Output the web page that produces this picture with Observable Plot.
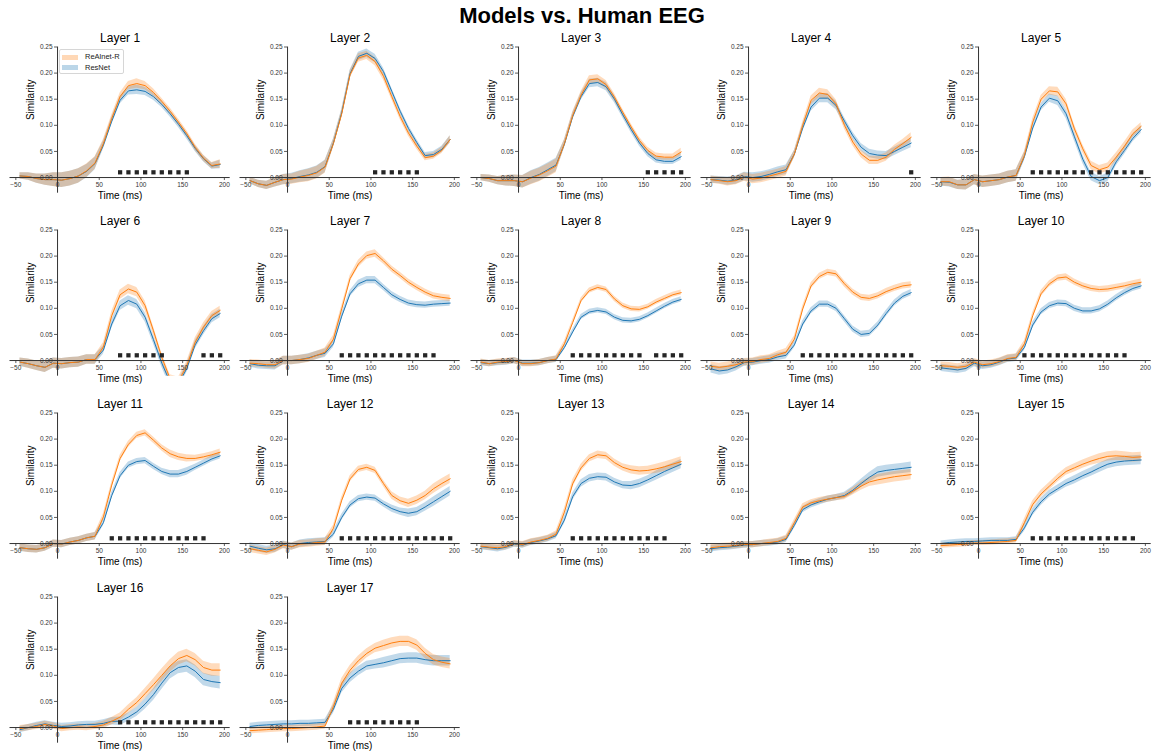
<!DOCTYPE html>
<html>
<head>
<meta charset="utf-8">
<script src="https://cdn.jsdelivr.net/npm/d3@7"></script>
<script src="https://cdn.jsdelivr.net/npm/@observablehq/plot@0.6"></script>
<style>
  body { margin: 0; background: #fff; font-family: "Liberation Sans", Arial, sans-serif; }
  #chart { position: relative; width: 1156px; height: 754px; overflow: hidden; background: #fff; }
  #title { position: absolute; left: 332px; width: 500px; top: 3px; text-align: center;
           font-size: 22px; font-weight: bold; line-height: 26px; color: #000; }
  .panel { position: absolute; }
  #legend { position: absolute; left: 59px; top: 49px; width: 63px; height: 23px;
            border: 1px solid #d6d6d6; border-radius: 2px; background: rgba(255,255,255,0.85);
            font-size: 7.5px; color: #222; }
  #legend .row { position: absolute; left: 2px; height: 8px; line-height: 8px; white-space: nowrap; }
  #legend .sw { display: inline-block; width: 16px; height: 5px; vertical-align: middle; margin-right: 7px; }
</style>
</head>
<body>
<div id="chart">
  <div id="title">Models vs. Human EEG</div>
</div>
<script>
// Time points (ms relative to stimulus onset)
const times = [-45,-35,-25,-15,-5,5,15,25,35,45,55,65,75,85,95,105,115,125,135,145,155,165,175,185,195];

const layerNames = ["Layer 1","Layer 2","Layer 3","Layer 4","Layer 5","Layer 6","Layer 7","Layer 8","Layer 9",
  "Layer 10","Layer 11","Layer 12","Layer 13","Layer 14","Layer 15","Layer 16","Layer 17"];
const modelNames = ["ReAlnet-R", "ResNet"];
const modelColors = ["#ff7f0e", "#1f77b4"];

const xTicks = [-50, 0, 50, 100, 150, 200];
const yTicks = [0, 0.05, 0.10, 0.15, 0.20, 0.25];
const sigLevel = 0.01;

// Mean similarity per layer, ReAlnet-R
const realnetR = [
  [0.003,0.002,-0.002,-0.004,-0.004,-0.005,-0.002,0.003,0.013,0.028,0.065,0.113,0.155,0.176,0.180,0.176,0.163,0.146,0.127,0.106,0.084,0.058,0.037,0.023,0.026],
  [-0.006,-0.012,-0.015,-0.009,-0.004,-0.003,0.001,0.004,0.009,0.020,0.065,0.122,0.197,0.229,0.234,0.222,0.194,0.155,0.117,0.085,0.060,0.038,0.041,0.052,0.073],
  [0.000,-0.002,-0.006,-0.006,-0.006,-0.008,-0.001,0.005,0.013,0.022,0.065,0.119,0.158,0.187,0.189,0.178,0.154,0.125,0.097,0.071,0.052,0.041,0.039,0.039,0.049],
  [-0.004,-0.006,-0.008,-0.006,0.001,-0.003,-0.001,0.003,0.007,0.012,0.045,0.100,0.148,0.162,0.159,0.141,0.100,0.068,0.045,0.033,0.033,0.039,0.054,0.065,0.077],
  [-0.008,-0.008,-0.014,-0.014,-0.004,-0.008,-0.006,-0.004,0.001,0.004,0.042,0.106,0.150,0.166,0.164,0.141,0.093,0.055,0.023,0.015,0.020,0.039,0.060,0.084,0.098],
  [-0.003,-0.006,-0.010,-0.013,-0.005,-0.006,-0.004,-0.003,0.002,0.002,0.026,0.086,0.126,0.137,0.131,0.105,0.057,0.006,-0.035,-0.040,-0.010,0.035,0.064,0.086,0.096],
  [-0.005,-0.006,-0.008,-0.008,0.000,0.000,0.002,0.004,0.010,0.016,0.041,0.099,0.157,0.185,0.201,0.205,0.191,0.175,0.163,0.150,0.140,0.131,0.124,0.121,0.119],
  [-0.003,-0.006,-0.003,-0.002,0.000,-0.006,-0.006,-0.004,0.000,0.003,0.032,0.073,0.115,0.134,0.140,0.136,0.118,0.105,0.099,0.098,0.103,0.112,0.119,0.126,0.130],
  [-0.011,-0.013,-0.011,-0.008,-0.003,-0.002,0.002,0.004,0.011,0.016,0.041,0.099,0.143,0.161,0.169,0.166,0.147,0.131,0.121,0.119,0.124,0.132,0.138,0.143,0.145],
  [-0.010,-0.011,-0.013,-0.011,-0.003,-0.008,-0.006,-0.002,0.004,0.006,0.032,0.086,0.128,0.147,0.158,0.160,0.150,0.143,0.138,0.136,0.137,0.140,0.143,0.147,0.150],
  [-0.008,-0.010,-0.011,-0.008,0.000,-0.001,0.003,0.006,0.011,0.014,0.051,0.112,0.163,0.190,0.207,0.212,0.198,0.183,0.172,0.166,0.163,0.163,0.166,0.170,0.175],
  [-0.010,-0.013,-0.016,-0.011,-0.003,-0.006,-0.001,0.000,0.002,0.003,0.029,0.083,0.124,0.142,0.146,0.140,0.115,0.092,0.082,0.077,0.083,0.092,0.105,0.115,0.124],
  [-0.005,-0.007,-0.008,-0.006,0.000,-0.002,0.003,0.006,0.010,0.018,0.060,0.115,0.145,0.163,0.170,0.168,0.155,0.146,0.141,0.139,0.140,0.143,0.147,0.152,0.157],
  [-0.008,-0.006,-0.005,-0.004,-0.002,-0.002,0.000,0.002,0.004,0.010,0.040,0.070,0.078,0.082,0.085,0.088,0.090,0.100,0.110,0.118,0.122,0.125,0.128,0.130,0.132],
  [-0.004,-0.003,-0.002,-0.001,0.001,0.001,0.002,0.003,0.004,0.006,0.040,0.075,0.095,0.110,0.125,0.138,0.145,0.152,0.158,0.163,0.167,0.168,0.167,0.165,0.166],
  [-0.002,0.000,0.002,0.006,0.003,-0.002,0.000,0.001,0.000,0.002,0.005,0.012,0.020,0.035,0.048,0.065,0.082,0.100,0.118,0.132,0.138,0.130,0.115,0.110,0.110],
  [-0.006,-0.005,-0.004,-0.003,-0.002,-0.002,-0.001,0.000,0.001,0.003,0.040,0.085,0.110,0.128,0.142,0.152,0.157,0.162,0.165,0.165,0.158,0.142,0.130,0.125,0.122]
];

// Mean similarity per layer, ResNet
const resnet = [
  [0.003,0.002,-0.002,-0.004,-0.004,-0.005,-0.002,0.003,0.012,0.027,0.062,0.108,0.148,0.166,0.168,0.165,0.155,0.140,0.122,0.102,0.080,0.056,0.036,0.022,0.025],
  [-0.006,-0.012,-0.015,-0.009,-0.004,-0.002,0.002,0.005,0.010,0.021,0.066,0.124,0.199,0.232,0.238,0.228,0.203,0.165,0.127,0.094,0.067,0.042,0.044,0.054,0.073],
  [0.000,-0.002,-0.006,-0.006,-0.006,-0.008,0.000,0.006,0.015,0.024,0.064,0.117,0.155,0.180,0.182,0.174,0.150,0.120,0.092,0.066,0.046,0.034,0.031,0.031,0.040],
  [-0.004,-0.005,-0.007,-0.005,0.002,0.000,0.002,0.006,0.011,0.015,0.045,0.095,0.135,0.152,0.152,0.138,0.108,0.080,0.058,0.046,0.043,0.042,0.050,0.058,0.066],
  [-0.008,-0.009,-0.014,-0.014,-0.004,-0.008,-0.006,-0.004,0.001,0.004,0.040,0.095,0.135,0.152,0.147,0.122,0.078,0.035,0.002,-0.006,0.000,0.030,0.052,0.075,0.092],
  [-0.003,-0.006,-0.010,-0.013,-0.005,-0.006,-0.004,-0.003,0.002,0.002,0.020,0.070,0.105,0.115,0.108,0.083,0.040,-0.005,-0.042,-0.045,-0.015,0.030,0.057,0.080,0.090],
  [-0.006,-0.009,-0.010,-0.010,0.000,0.000,0.002,0.005,0.010,0.014,0.032,0.085,0.128,0.147,0.154,0.154,0.140,0.126,0.117,0.110,0.107,0.106,0.108,0.109,0.110],
  [-0.004,-0.006,-0.004,-0.003,0.000,-0.005,-0.005,-0.004,0.000,0.002,0.025,0.055,0.083,0.093,0.096,0.093,0.083,0.077,0.076,0.079,0.086,0.095,0.104,0.112,0.117],
  [-0.016,-0.020,-0.018,-0.012,-0.004,-0.003,0.000,0.002,0.007,0.010,0.030,0.070,0.095,0.108,0.108,0.100,0.080,0.060,0.050,0.052,0.068,0.090,0.110,0.123,0.130],
  [-0.014,-0.016,-0.018,-0.015,-0.005,-0.010,-0.008,-0.003,0.003,0.005,0.025,0.068,0.093,0.105,0.110,0.109,0.100,0.095,0.095,0.099,0.108,0.120,0.130,0.138,0.143],
  [-0.008,-0.010,-0.011,-0.008,0.000,-0.001,0.003,0.006,0.011,0.014,0.040,0.092,0.130,0.150,0.157,0.159,0.148,0.138,0.133,0.133,0.138,0.146,0.154,0.162,0.168],
  [-0.005,-0.009,-0.012,-0.010,-0.002,-0.006,0.000,0.002,0.003,0.004,0.018,0.050,0.074,0.086,0.089,0.087,0.076,0.067,0.061,0.058,0.061,0.070,0.080,0.090,0.100],
  [-0.006,-0.008,-0.010,-0.007,-0.001,-0.003,0.002,0.005,0.009,0.015,0.045,0.090,0.115,0.125,0.128,0.127,0.118,0.112,0.111,0.115,0.122,0.130,0.138,0.145,0.152],
  [-0.010,-0.008,-0.007,-0.005,-0.003,-0.002,0.000,0.001,0.003,0.008,0.035,0.065,0.074,0.080,0.085,0.088,0.092,0.102,0.115,0.127,0.137,0.140,0.142,0.144,0.146],
  [0.000,0.002,0.003,0.004,0.004,0.005,0.006,0.006,0.006,0.008,0.030,0.060,0.080,0.095,0.105,0.115,0.122,0.130,0.137,0.145,0.152,0.156,0.158,0.159,0.160],
  [-0.004,0.000,0.004,0.007,0.004,0.002,0.003,0.005,0.006,0.006,0.008,0.012,0.012,0.020,0.030,0.045,0.063,0.085,0.105,0.115,0.118,0.108,0.092,0.088,0.086],
  [0.002,0.004,0.005,0.006,0.007,0.007,0.008,0.008,0.009,0.010,0.035,0.075,0.095,0.108,0.118,0.121,0.124,0.128,0.132,0.133,0.133,0.130,0.128,0.128,0.128]
];

// Half-width of the shaded confidence band per layer
const bandHalfWidth = [
  [0.006,0.007,0.009,0.011,0.013,0.014,0.014,0.014,0.013,0.012,0.008,0.007,0.007,0.008,0.009,0.008,0.007,0.006,0.006,0.006,0.006,0.006,0.006,0.006,0.008],
  [0.006,0.007,0.008,0.009,0.010,0.010,0.011,0.012,0.012,0.012,0.008,0.007,0.007,0.008,0.008,0.008,0.007,0.006,0.006,0.006,0.006,0.006,0.006,0.006,0.007],
  [0.006,0.007,0.008,0.010,0.011,0.012,0.013,0.013,0.013,0.013,0.008,0.007,0.007,0.008,0.008,0.008,0.007,0.006,0.006,0.006,0.006,0.006,0.006,0.006,0.007],
  [0.007,0.007,0.008,0.008,0.008,0.009,0.009,0.009,0.009,0.009,0.007,0.007,0.008,0.009,0.009,0.008,0.007,0.007,0.007,0.008,0.008,0.008,0.008,0.008,0.009],
  [0.008,0.009,0.009,0.010,0.010,0.011,0.011,0.011,0.011,0.011,0.008,0.007,0.007,0.008,0.009,0.009,0.008,0.008,0.008,0.008,0.008,0.008,0.008,0.007,0.007],
  [0.008,0.009,0.009,0.010,0.010,0.010,0.010,0.010,0.009,0.009,0.008,0.008,0.009,0.009,0.009,0.009,0.008,0.008,0.008,0.008,0.008,0.008,0.008,0.008,0.008],
  [0.007,0.007,0.007,0.008,0.008,0.008,0.008,0.008,0.008,0.008,0.007,0.006,0.006,0.007,0.007,0.007,0.006,0.006,0.006,0.006,0.006,0.006,0.006,0.006,0.006],
  [0.006,0.006,0.006,0.006,0.006,0.006,0.006,0.006,0.006,0.006,0.005,0.005,0.005,0.005,0.005,0.005,0.005,0.005,0.005,0.005,0.005,0.005,0.005,0.005,0.005],
  [0.008,0.008,0.008,0.008,0.007,0.007,0.007,0.007,0.007,0.007,0.006,0.006,0.006,0.006,0.006,0.006,0.006,0.006,0.006,0.006,0.006,0.006,0.006,0.006,0.006],
  [0.007,0.007,0.007,0.007,0.007,0.007,0.007,0.007,0.007,0.007,0.006,0.006,0.006,0.006,0.006,0.006,0.006,0.006,0.006,0.006,0.006,0.006,0.006,0.006,0.006],
  [0.007,0.007,0.007,0.007,0.007,0.007,0.007,0.007,0.007,0.007,0.006,0.006,0.006,0.006,0.006,0.006,0.006,0.006,0.007,0.007,0.007,0.006,0.006,0.006,0.006],
  [0.007,0.007,0.007,0.007,0.007,0.007,0.007,0.007,0.007,0.007,0.006,0.006,0.006,0.006,0.006,0.006,0.006,0.007,0.007,0.008,0.008,0.008,0.009,0.009,0.009],
  [0.006,0.006,0.006,0.006,0.006,0.006,0.006,0.006,0.006,0.006,0.007,0.007,0.007,0.007,0.007,0.007,0.007,0.007,0.008,0.008,0.008,0.009,0.009,0.009,0.009],
  [0.006,0.006,0.006,0.006,0.006,0.006,0.006,0.006,0.006,0.006,0.006,0.006,0.006,0.006,0.006,0.006,0.006,0.007,0.008,0.009,0.010,0.010,0.010,0.010,0.010],
  [0.005,0.005,0.005,0.005,0.005,0.005,0.005,0.005,0.005,0.005,0.007,0.007,0.007,0.007,0.007,0.007,0.008,0.008,0.008,0.009,0.009,0.009,0.009,0.009,0.009],
  [0.006,0.006,0.006,0.006,0.006,0.006,0.006,0.006,0.006,0.006,0.007,0.007,0.008,0.008,0.009,0.010,0.011,0.012,0.012,0.012,0.012,0.012,0.012,0.012,0.012],
  [0.006,0.006,0.006,0.006,0.006,0.006,0.006,0.006,0.006,0.006,0.008,0.009,0.009,0.009,0.009,0.009,0.010,0.010,0.010,0.010,0.010,0.010,0.010,0.010,0.010]
];

// Time points where the two models differ significantly
const significant = [
  [75,85,95,105,115,125,135,145,155],
  [105,115,125,135,145,155],
  [155,165,175,185,195],
  [195],
  [65,75,85,95,105,115,125,135,145,155,165,175,185,195],
  [75,85,95,105,115,125,175,185,195],
  [65,75,85,95,105,115,125,135,145,155,165,175],
  [65,75,85,95,105,115,125,135,145,165,175,185,195],
  [65,75,85,95,105,115,125,135,145,155,165,175,185,195],
  [55,65,75,85,95,105,115,125,135,145,155,165,175],
  [65,75,85,95,105,115,125,135,145,155,165,175],
  [65,75,85,95,105,115,125,135,145,155,165,175,185,195],
  [65,75,85,95,105,115,125,135,145,155,165,175],
  [],
  [65,75,85,95,105,115,125,135,145,155,165,175,185],
  [75,85,95,105,115,125,135,145,155,165,175,185,195],
  [75,85,95,105,115,125,135,145,155]
];

// Panel grid geometry
const nCols = 5;
const colStep = 230.35, rowStep = 183.17;
const svgW = 231, svgH = 205;
const mLeft = 9.5, mTop = 46.5, plotW = 220.2, plotH = 146.2;
const axisColor = "#333";
const fontFamily = "'Liberation Sans', Arial, sans-serif";

const chart = document.getElementById("chart");

function seriesRows(values, band, model) {
  return times.map((t, j) => ({
    time: t, model, value: values[j], lo: values[j] - band[j], hi: values[j] + band[j]
  }));
}

layerNames.forEach((name, i) => {
  const col = i % nCols, row = Math.floor(i / nCols);
  const rows = [
    seriesRows(resnet[i], bandHalfWidth[i], modelNames[1]),
    seriesRows(realnetR[i], bandHalfWidth[i], modelNames[0])
  ];
  const colors = [modelColors[1], modelColors[0]];

  const marks = [];
  rows.forEach((data, k) => {
    marks.push(Plot.areaY(data, {x: "time", y1: "lo", y2: "hi", fill: colors[k], fillOpacity: 0.28, clip: true}));
  });
  rows.forEach((data, k) => {
    marks.push(Plot.lineY(data, {x: "time", y: "value", stroke: colors[k], strokeWidth: 1, clip: true}));
  });

  marks.push(
    // axes crossing at the origin
    Plot.ruleY([0], {stroke: axisColor, strokeWidth: 1}),
    Plot.ruleX([0], {stroke: axisColor, strokeWidth: 1}),
    Plot.ruleX(xTicks, {x: d => d, y1: () => 0, y2: () => 0, insetTop: 0, insetBottom: -3, stroke: axisColor, strokeWidth: 0.8}),
    Plot.ruleY(yTicks, {y: d => d, x1: () => 0, x2: () => 0, insetLeft: -3, insetRight: 0, stroke: axisColor, strokeWidth: 0.8}),
    Plot.text(xTicks, {x: d => d, y: () => 0, text: d => d < 0 ? "\u2212" + Math.abs(d) : String(d),
      dy: 7.5, fontSize: 6.5, fill: "#333", lineAnchor: "middle"}),
    Plot.text(yTicks, {x: () => 0, y: d => d, text: d => d.toFixed(2),
      dx: -5, textAnchor: "end", fontSize: 6.5, fill: "#333", lineAnchor: "middle"}),
    Plot.dot(significant[i], {x: d => d, y: () => sigLevel, symbol: "square", r: 2.4, fill: "#262626", stroke: "none"}),
    Plot.text([name], {frameAnchor: "top", dy: -8.5, lineAnchor: "middle", fontSize: 12, fill: "#000"}),
    Plot.text(["Similarity"], {frameAnchor: "left", dx: 20.5, rotate: -90, lineAnchor: "middle", fontSize: 10, fill: "#000"}),
    Plot.text(["Time (ms)"], {frameAnchor: "bottom", dy: 3, lineAnchor: "middle", fontSize: 10, fill: "#000"})
  );

  const svg = Plot.plot({
    width: svgW,
    height: svgH,
    marginLeft: mLeft,
    marginRight: svgW - mLeft - plotW,
    marginTop: mTop,
    marginBottom: svgH - mTop - plotH,
    x: {domain: [-57, 207], axis: null},
    y: {domain: [-0.03, 0.25], axis: null},
    style: {background: "transparent", overflow: "visible", fontFamily, maxWidth: "none"},
    marks
  });

  const holder = document.createElement("div");
  holder.className = "panel";
  holder.style.left = (col * colStep) + "px";
  holder.style.top = (row * rowStep) + "px";
  holder.appendChild(svg);
  chart.appendChild(holder);
});

// Legend inside the first panel
const legend = document.createElement("div");
legend.id = "legend";
modelNames.forEach((m, k) => {
  const r = document.createElement("div");
  r.className = "row";
  r.style.top = (k === 0 ? 3 : 13.5) + "px";
  const sw = document.createElement("span");
  sw.className = "sw";
  sw.style.background = modelColors[k];
  sw.style.opacity = 0.3;
  r.appendChild(sw);
  r.appendChild(document.createTextNode(m));
  legend.appendChild(r);
});
chart.appendChild(legend);
</script>
</body>
</html>
